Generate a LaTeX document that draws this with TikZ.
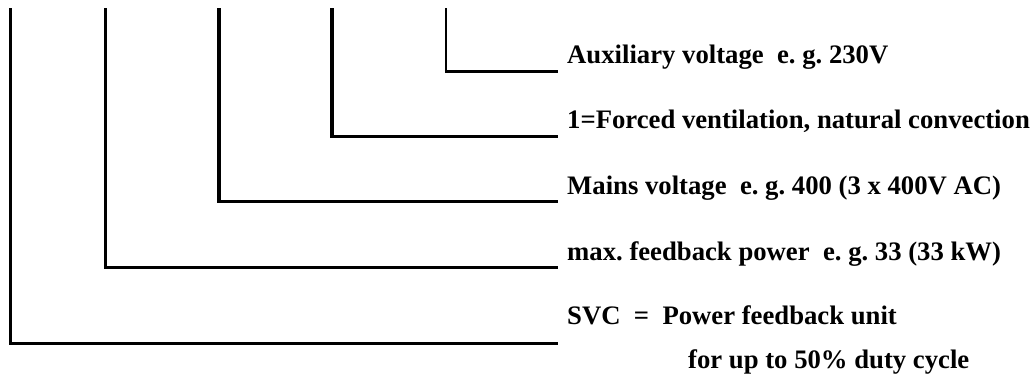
\documentclass[tikz,border=0pt]{standalone}
\usepackage{fontspec}
\setmainfont{Liberation Serif}
\usetikzlibrary{positioning}
\frenchspacing
\tikzset{
      codeline/.style={
        line width=3.4pt,
        line cap=butt,
        line join=miter
      },
      codetext/.style={
        anchor=base west,
        inner sep=0pt,
        font=\bfseries\fontsize{26.7}{30}\selectfont
      }
    }

\begin{document}
\begin{tikzpicture}[x=1pt,y=-1pt]
    \useasboundingbox (0,0) rectangle (1035,378);
    % tops of the code positions
    \coordinate (c0) at (10.7,8);
    \coordinate (c1) at (105.7,8);
    \coordinate (c2) at (219,8);
    \coordinate (c3) at (332,8);
    \coordinate (c4) at (446,8);
    % free ends in front of the texts
    \coordinate (e0) at (557.5,343.3);
    \coordinate (e1) at (557.5,267.7);
    \coordinate (e2) at (557.5,201.7);
    \coordinate (e3) at (557.5,136.7);
    \coordinate (e4) at (557.5,71.7);
    \node[codetext] (l4) at (567,63) {Auxiliary voltage\ \ e. g. 230V};
    \node[codetext] (l3) at (567,128.5) {1=Forced ventilation, natural convection};
    \node[codetext] (l2) at (567,194) {Mains voltage\ \ e. g. 400 (3 x 400V AC)};
    \node[codetext] (l1) at (567,260) {max. feedback power\ \ e. g. 33 (33 kW)};
    \node[codetext] (l0) at (567,324.5) {SVC\ \ =\ \ Power feedback unit};
    \node[codetext] (l0b) at (688,368) {for up to 50\% duty cycle};
    \draw[codeline] (c0) |- (e0);
    \draw[codeline] (c1) |- (e1);
    \draw[codeline] (c2) |- (e2);
    \draw[codeline] (c3) |- (e3);
    \draw[codeline, line width=2.2pt] (c4) -- (c4 |- e4);
    \draw[codeline] ([xshift=-1.1pt]c4 |- e4) -- (e4);
    \end{tikzpicture}
\end{document}
